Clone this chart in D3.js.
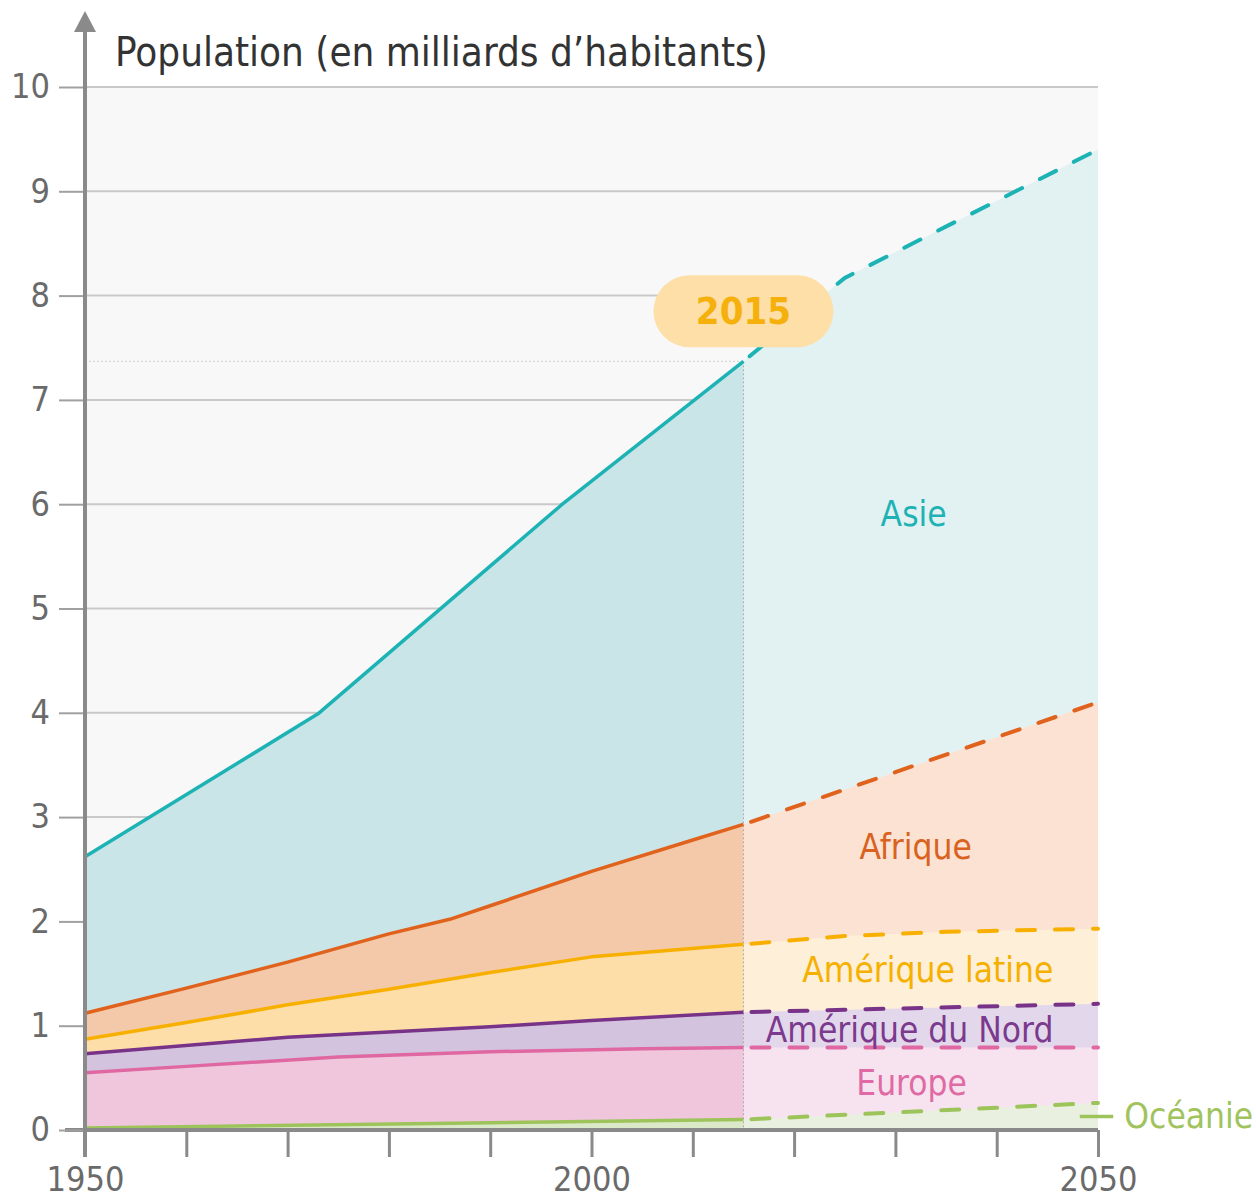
<!DOCTYPE html>
<html>
<head>
<meta charset="utf-8">
<script src="https://cdn.jsdelivr.net/npm/d3@7"></script>
<style>
  body { margin: 0; background: #fff; }
  text { font-family: "DejaVu Sans Condensed", "DejaVu Sans", sans-serif; font-stretch: condensed; }
</style>
</head>
<body>
<svg id="chart" width="1256" height="1201"></svg>
<script>
// ── données (milliards d'habitants, valeurs cumulées = haut de chaque bande) ──
const yTicks      = d3.range(0, 11);
const xTickYears  = d3.range(1950, 2051, 10);
const xLabelYears = [1950, 2000, 2050];
const yearNow     = 2015;

const asieYears     = [1950, 1973, 1997, 2015];
const asieTop       = [2.62, 3.99, 5.99, 7.37];
const asieProjYears = [2015, 2025, 2050];
const asieProjTop   = [7.37, 8.17, 9.40];

const afriqueYears     = [1950, 1960, 1970, 1980, 1986, 1990, 2000, 2010, 2015];
const afriqueTop       = [1.12, 1.36, 1.61, 1.88, 2.02, 2.15, 2.48, 2.78, 2.93];
const afriqueProjYears = [2015, 2050];
const afriqueProjTop   = [2.93, 4.10];

const latineYears     = [1950, 1960, 1970, 1980, 1990, 2000, 2015];
const latineTop       = [0.87, 1.03, 1.20, 1.35, 1.51, 1.66, 1.78];
const latineProjYears = [2015, 2025, 2035, 2050];
const latineProjTop   = [1.78, 1.86, 1.90, 1.93];

const nordYears     = [1950, 1970, 1990, 2000, 2015];
const nordTop       = [0.73, 0.89, 0.99, 1.05, 1.13];
const nordProjYears = [2015, 2050];
const nordProjTop   = [1.13, 1.21];

const europeYears     = [1950, 1960, 1975, 1990, 2005, 2015];
const europeTop       = [0.55, 0.61, 0.70, 0.75, 0.78, 0.79];
const europeProjYears = [2015, 2050];
const europeProjTop   = [0.79, 0.79];

const oceanieYears     = [1950, 2015];
const oceanieTop       = [0.02, 0.10];
const oceanieProjYears = [2015, 2050];
const oceanieProjTop   = [0.10, 0.26];

const zip = (ys, vs) => ys.map((y, i) => ({ year: y, v: vs[i] }));

// ── séries (de haut en bas : ordre de dessin) ─────────────────
const series = [
  { name: "Asie",             line: "#1db3b5", fill: "#cae5e8", fillProj: "#e2f2f3",
    hist: zip(asieYears, asieTop),       proj: zip(asieProjYears, asieProjTop) },
  { name: "Afrique",          line: "#e0621c", fill: "#f3c9aa", fillProj: "#fbe2d3",
    hist: zip(afriqueYears, afriqueTop), proj: zip(afriqueProjYears, afriqueProjTop) },
  { name: "Amérique latine",  line: "#f8b000", fill: "#fddea8", fillProj: "#feefd9",
    hist: zip(latineYears, latineTop),   proj: zip(latineProjYears, latineProjTop) },
  { name: "Amérique du Nord", line: "#783389", fill: "#d4c3de", fillProj: "#e3d8eb",
    hist: zip(nordYears, nordTop),       proj: zip(nordProjYears, nordProjTop) },
  { name: "Europe",           line: "#e068a2", fill: "#efc6dc", fillProj: "#f6e3ef",
    hist: zip(europeYears, europeTop),   proj: zip(europeProjYears, europeProjTop) },
  { name: "Océanie",          line: "#9dc45b", fill: "#dce9c8", fillProj: "#eaf0e0",
    hist: zip(oceanieYears, oceanieTop), proj: zip(oceanieProjYears, oceanieProjTop) }
];

// positions des étiquettes (année, valeur)
const labelPos = {
  "Asie":             { year: 2031.8, v: 5.91, color: "#1fb2b5", anchor: "middle" },
  "Afrique":          { year: 2032.0, v: 2.71, color: "#d8621e", anchor: "middle" },
  "Amérique latine":  { year: 2033.2, v: 1.53, color: "#f5b000", anchor: "middle" },
  "Amérique du Nord": { year: 2031.4, v: 0.96, color: "#7b3a8d", anchor: "middle" },
  "Europe":           { year: 2031.6, v: 0.45, color: "#e06aa3", anchor: "middle" },
  "Océanie":          { year: 2052.6, v: 0.13, color: "#a0c35e", anchor: "start" }
};

// ── mise en page ──────────────────────────────────────────────
const svg = d3.select("#chart");
const x = d3.scaleLinear().domain([1950, 2050]).range([85, 1098]);
const y = d3.scaleLinear().domain([0, 10]).range([1130, 87]);

const AXIS_C = "#8a8a8a";
const TXT_C  = "#6a6a6a";

// fond + grille
svg.append("rect")
  .attr("x", x(1950)).attr("y", y(10))
  .attr("width", x(2050) - x(1950)).attr("height", y(0) - y(10))
  .attr("fill", "#f8f8f8");

svg.append("g").selectAll("line").data(yTicks.filter(d => d > 0)).join("line")
  .attr("x1", x(1950)).attr("x2", x(2050))
  .attr("y1", d => y(d)).attr("y2", d => y(d))
  .attr("stroke", "#c9c9c9").attr("stroke-width", 2);

// ligne pointillée horizontale (niveau 2015)
const world2015 = asieTop[asieTop.length - 1];
svg.append("line")
  .attr("x1", x(1950)).attr("x2", x(yearNow))
  .attr("y1", y(world2015)).attr("y2", y(world2015))
  .attr("stroke", "#cfcfcf").attr("stroke-width", 1).attr("stroke-dasharray", "2,2");

// aires (chaque bande jusqu'à 0, la suivante recouvre)
const area = d3.area().x(d => x(d.year)).y0(y(0)).y1(d => y(d.v));
const line = d3.line().x(d => x(d.year)).y(d => y(d.v));

const areaG = svg.append("g");
series.forEach(s => {
  areaG.append("path").attr("d", area(s.hist)).attr("fill", s.fill);
  areaG.append("path").attr("d", area(s.proj)).attr("fill", s.fillProj);
});

// repère vertical 2015
svg.append("line")
  .attr("x1", x(yearNow)).attr("x2", x(yearNow))
  .attr("y1", y(world2015)).attr("y2", y(0))
  .attr("stroke", "#a9a9a9").attr("stroke-width", 1).attr("stroke-dasharray", "2,2");

// courbes
const lineG = svg.append("g").attr("fill", "none");
series.slice().reverse().forEach(s => {
  lineG.append("path").attr("d", line(s.hist))
    .attr("stroke", s.line).attr("stroke-width", 3.5).attr("stroke-linejoin", "round");
  lineG.append("path").attr("d", line(s.proj))
    .attr("stroke", s.line).attr("stroke-width", 4)
    .attr("stroke-dasharray", "18,20").attr("stroke-dashoffset", -8)
    .attr("stroke-linecap", "round");
});

// trait de l'étiquette Océanie
svg.append("line")
  .attr("x1", x(2048.2)).attr("x2", x(2051.5))
  .attr("y1", y(0.13)).attr("y2", y(0.13))
  .attr("stroke", "#9dc45b").attr("stroke-width", 3.5);

// ── axes ──────────────────────────────────────────────────────
const xAxis = svg.append("g")
  .attr("transform", `translate(0,${y(0)})`)
  .call(d3.axisBottom(x).tickValues(xTickYears).tickSize(27).tickSizeOuter(0).tickPadding(10)
    .tickFormat(d => xLabelYears.includes(d) ? d : ""));
xAxis.select(".domain").remove();
xAxis.selectAll(".tick line").attr("stroke", AXIS_C).attr("stroke-width", 3);
xAxis.selectAll(".tick text").attr("fill", TXT_C).attr("font-size", 34);

svg.append("line")
  .attr("x1", 65).attr("x2", x(2050))
  .attr("y1", y(0)).attr("y2", y(0))
  .attr("stroke", AXIS_C).attr("stroke-width", 4);

const yAxis = svg.append("g")
  .attr("transform", `translate(${x(1950)},0)`)
  .call(d3.axisLeft(y).tickValues(yTicks).tickSize(26).tickSizeOuter(0).tickPadding(9));
yAxis.select(".domain").remove();
yAxis.selectAll(".tick line").attr("stroke", "#a0a0a0").attr("stroke-width", 2);
yAxis.selectAll(".tick text").attr("fill", TXT_C).attr("font-size", 34);

svg.append("line")
  .attr("x1", x(1950)).attr("x2", x(1950))
  .attr("y1", y(0) + 27).attr("y2", 28)
  .attr("stroke", AXIS_C).attr("stroke-width", 4);
svg.append("path")
  .attr("d", `M${x(1950)},11 L${x(1950) - 11},32 L${x(1950) + 11},32 Z`)
  .attr("fill", AXIS_C);

// titre
svg.append("text")
  .attr("x", 115).attr("y", 66)
  .attr("fill", "#333").attr("font-size", 40)
  .text("Population (en milliards d’habitants)");

// ── étiquettes ───────────────────────────────────────────────
series.forEach(s => {
  const p = labelPos[s.name];
  svg.append("text")
    .attr("x", x(p.year)).attr("y", y(p.v))
    .attr("text-anchor", p.anchor).attr("dominant-baseline", "central")
    .attr("fill", p.color).attr("font-size", 35)
    .text(s.name);
});

// pastille 2015
const pill = svg.append("g").attr("transform", `translate(${x(yearNow)},${y(world2015) - 50})`);
pill.append("rect")
  .attr("x", -90).attr("y", -36).attr("width", 180).attr("height", 72).attr("rx", 36)
  .attr("fill", "#fddfa7");
pill.append("text")
  .attr("text-anchor", "middle").attr("dominant-baseline", "central")
  .attr("font-size", 38).attr("font-weight", "bold").attr("fill", "#f6b00c")
  .text(yearNow);
</script>
</body>
</html>
